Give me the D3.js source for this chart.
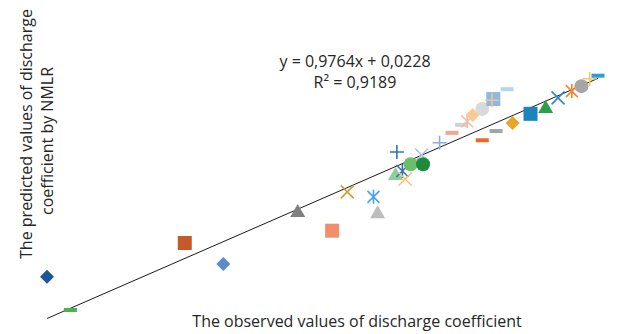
<!DOCTYPE html>
<html>
<head>
<meta charset="utf-8">
<script src="https://cdn.jsdelivr.net/npm/d3@7"></script>
<style>
  body { margin: 0; background: #fff; }
  text { font-family: "Open Sans", sans-serif; fill: #262626; }
</style>
</head>
<body>
<div id="chart"></div>
<script>
// observed vs predicted discharge coefficient, one marker style per point
const observed = [0.450, 0.467, 0.550, 0.578, 0.632, 0.657, 0.668, 0.687, 0.690, 0.704,
  0.703, 0.708, 0.710, 0.722, 0.714, 0.723, 0.735, 0.744, 0.766, 0.776,
  0.751, 0.755, 0.759, 0.766, 0.774, 0.773, 0.784, 0.788, 0.801, 0.812,
  0.821, 0.831, 0.838, 0.844, 0.850];
const predicted = [0.530, 0.476, 0.585, 0.551, 0.637, 0.605, 0.668, 0.660, 0.635, 0.733,
  0.697, 0.702, 0.689, 0.728, 0.713, 0.713, 0.748, 0.764, 0.752, 0.767,
  0.777, 0.783, 0.793, 0.803, 0.819, 0.817, 0.835, 0.780, 0.795, 0.806,
  0.821, 0.832, 0.840, 0.852, 0.857];
const shapes = ["diamond", "dash", "square", "diamond", "triangle", "square", "x", "star", "triangle", "plus",
  "triangle", "star", "x", "x", "circle", "circle", "plus", "dash", "dash", "dash",
  "dash", "star", "diamond", "circle", "square", "plus", "dash", "diamond", "square", "triangle",
  "x", "star", "circle", "plus", "dash"];
const colors = ["#1b5594", "#4caf50", "#c4592a", "#5a8ccc", "#808080", "#f48d6c", "#d09b3c", "#4aa3e8", "#bdbdbd", "#2e75b6",
  "#8fce9a", "#2e75b6", "#f7c36b", "#a9c3e3", "#6abf69", "#1e8a3c", "#8eaadb", "#f4a490", "#e96a2a", "#a0a4a6",
  "#d0d0d0", "#f7b9a8", "#fcc991", "#d9d9d9", "#8bb8e4", "#f8c18f", "#b4d4f0", "#eca425", "#1c84bd", "#2e9e48",
  "#2e86d0", "#f5852e", "#a6a6a6", "#fbc65c", "#2a9de0"];

const slope = 0.9764, intercept = 0.0228;
const eqLines = ["y = 0,9764x + 0,0228", "R² = 0,9189"];

const width = 628, height = 334;

const points = observed.map((v, i) => ({ x: v, y: predicted[i], shape: shapes[i], color: colors[i] }));

const svg = d3.select("#chart").append("svg")
  .attr("width", width)
  .attr("height", height);

const x = d3.scaleLinear().domain([0.45, 0.85]).range([47, 598]);
const y = d3.scaleLinear().domain([0.45, 0.85]).range([326, 80]);

// linear trendline over observed range
const xr = d3.extent(observed);
svg.append("line")
  .attr("x1", x(xr[0])).attr("y1", y(slope * xr[0] + intercept))
  .attr("x2", x(xr[1])).attr("y2", y(slope * xr[1] + intercept))
  .attr("stroke", "#1a1a1a")
  .attr("stroke-width", 1);

const filled = { circle: 1, square: 1, diamond: 1, triangle: 1, dash: 1 };
function markerPath(s) {
  switch (s) {
    case "circle": return d3.symbol(d3.symbolCircle, Math.PI * 49)();
    case "square": return "M-7,-7H7V7H-7Z";
    case "diamond": return "M0,-7L7,0L0,7L-7,0Z";
    case "triangle": return "M0,-7L7.5,6L-7.5,6Z";
    case "dash": return "M-6.5,-2H6.5V2H-6.5Z";
    case "x": return "M-6.5,-6.5L6.5,6.5M-6.5,6.5L6.5,-6.5";
    case "plus": return "M-7,0H7M0,-7V7";
    case "star": return "M-6,-6L6,6M-6,6L6,-6M0,-7V7";
  }
}

svg.append("g")
  .selectAll("path")
  .data(points)
  .join("path")
  .attr("transform", d => `translate(${x(d.x)},${y(d.y)})`)
  .attr("d", d => markerPath(d.shape))
  .attr("fill", d => filled[d.shape] ? d.color : "none")
  .attr("stroke", d => filled[d.shape] ? "none" : d.color)
  .attr("stroke-width", 1.6);

svg.append("g")
  .selectAll("text")
  .data(eqLines)
  .join("text")
  .attr("x", 355)
  .attr("y", (d, i) => 67 + i * 21)
  .attr("text-anchor", "middle")
  .style("font-size", "16px")
  .text(d => d);

svg.append("text")
  .attr("x", 357)
  .attr("y", 327)
  .attr("text-anchor", "middle")
  .style("font-size", "16px")
  .text("The observed values of discharge coefficient");

svg.append("text")
  .attr("transform", "translate(32,134) rotate(-90)")
  .attr("text-anchor", "middle")
  .style("font-size", "16px")
  .text("The predicted values of discharge");

svg.append("text")
  .attr("transform", "translate(53,141) rotate(-90)")
  .attr("text-anchor", "middle")
  .style("font-size", "16px")
  .text("coefficient by NMLR");
</script>
</body>
</html>
